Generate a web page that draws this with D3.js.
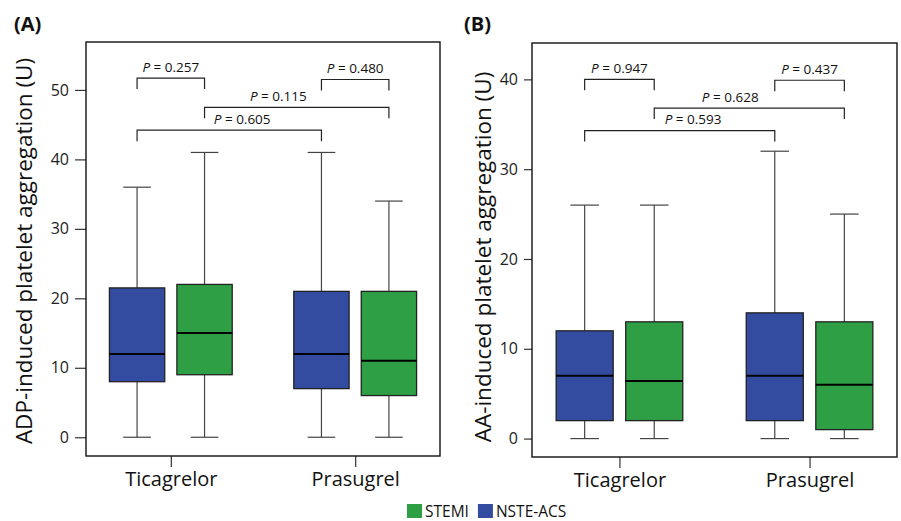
<!DOCTYPE html>
<html>
<head>
<meta charset="utf-8">
<script src="https://cdn.jsdelivr.net/npm/d3@7"></script>
<style>
  body { margin: 0; background: #fff; }
  svg { display: block; font-family: "Open Sans", "Noto Sans", sans-serif; }
</style>
</head>
<body>
<svg id="chart" width="901" height="521"></svg>
<script>
// data
var groups = ["Ticagrelor", "Prasugrel"];
var series = ["NSTE-ACS", "STEMI"];
var legendOrder = ["STEMI", "NSTE-ACS"];
var colors = {"NSTE-ACS": "#334ca0", "STEMI": "#2f9f46"};

// [min, q1, median, q3, max]  order: Tica NSTE, Tica STEMI, Pras NSTE, Pras STEMI
var adpBoxes = [[0, 8, 12, 21.5, 36], [0, 9, 15, 22, 41], [0, 7, 12, 21, 41], [0, 6, 11, 21, 34]];
var aaBoxes = [[0, 2, 7, 12, 26], [0, 2, 6.4, 13, 26], [0, 2, 7, 14, 32], [0, 1, 6, 13, 25]];

// brackets: [from box, to box], height (units), p value
var bracketPairs = [[0, 1], [2, 3], [1, 3], [0, 2]];
var adpBracketY = [51.7, 51.5, 47.5, 44.2];
var adpPvals = ["0.257", "0.480", "0.115", "0.605"];
var aaBracketY = [40.0, 39.9, 36.8, 34.3];
var aaPvals = ["0.947", "0.437", "0.628", "0.593"];

var adpTicks = [0, 10, 20, 30, 40, 50];
var aaTicks = [0, 10, 20, 30, 40];

// where along the bracket the label sits
var labelFrac = [0.5, 0.5, 0.4, 0.57];

var svg = d3.select("#chart");

var panels = [
  {tag: "(A)", title: "ADP-induced platelet aggregation (U)", boxes: adpBoxes, by: adpBracketY, pv: adpPvals, ticks: adpTicks,
   left: 86, right: 440, top: 42, bottom: 456, dom: [-2.7, 56.9], tickLen: 11, tagX: 14, titleX: 32, titleY: 251},
  {tag: "(B)", title: "AA-induced platelet aggregation (U)", boxes: aaBoxes, by: aaBracketY, pv: aaPvals, ticks: aaTicks,
   left: 532, right: 897, top: 43, bottom: 457, dom: [-2.05, 44.05], tickLen: 8, tagX: 464, titleX: 491, titleY: 257}
];

panels.forEach(function(p) {
  var g = svg.append("g");

  var x = d3.scalePoint().domain(groups).range([p.left, p.right]).padding(0.46);
  var step = x.step();
  var sub = d3.scaleBand().domain(series)
    .range([-0.333 * step, 0.333 * step]).paddingInner(0.18);
  var bw = sub.bandwidth();
  var y = d3.scaleLinear().domain(p.dom).range([p.bottom, p.top]);

  var boxData = [];
  groups.forEach(function(gr, i) {
    series.forEach(function(s, j) {
      var v = p.boxes[i * 2 + j];
      boxData.push({group: gr, series: s, cx: x(gr) + sub(s) + bw / 2,
        min: v[0], q1: v[1], med: v[2], q3: v[3], max: v[4]});
    });
  });

  // y axis
  var yAxis = d3.axisLeft(y).tickValues(p.ticks).tickSize(p.tickLen).tickPadding(6);
  var ya = g.append("g").attr("transform", "translate(" + p.left + ",0)").call(yAxis);
  ya.select(".domain").remove();
  ya.selectAll("line").attr("stroke", "#333").attr("stroke-width", 1.2);
  ya.selectAll("text").attr("font-size", 16).attr("fill", "#222")
    .attr("font-family", "Open Sans, sans-serif");

  // x axis
  var xAxis = d3.axisBottom(x).tickSize(11).tickPadding(5);
  var xa = g.append("g").attr("transform", "translate(0," + p.bottom + ")").call(xAxis);
  xa.select(".domain").remove();
  xa.selectAll("line").attr("stroke", "#333").attr("stroke-width", 1.2);
  xa.selectAll("text").attr("font-size", 20).attr("fill", "#111")
    .attr("font-family", "Open Sans, sans-serif");

  // whiskers
  var bx = g.selectAll(".box").data(boxData).enter().append("g");
  bx.append("line")
    .attr("x1", function(d) { return d.cx; }).attr("x2", function(d) { return d.cx; })
    .attr("y1", function(d) { return y(d.min); }).attr("y2", function(d) { return y(d.max); })
    .attr("stroke", "#444").attr("stroke-width", 1.2);
  bx.selectAll(".cap").data(function(d) { return [[d.cx, d.min], [d.cx, d.max]]; })
    .enter().append("line")
    .attr("x1", function(d) { return d[0] - bw / 4; }).attr("x2", function(d) { return d[0] + bw / 4; })
    .attr("y1", function(d) { return y(d[1]); }).attr("y2", function(d) { return y(d[1]); })
    .attr("stroke", "#444").attr("stroke-width", 1.2);
  bx.append("rect")
    .attr("x", function(d) { return d.cx - bw / 2; })
    .attr("width", bw)
    .attr("y", function(d) { return y(d.q3); })
    .attr("height", function(d) { return y(d.q1) - y(d.q3); })
    .attr("fill", function(d) { return colors[d.series]; })
    .attr("stroke", "#222").attr("stroke-width", 1.3);
  bx.append("line")
    .attr("x1", function(d) { return d.cx - bw / 2; }).attr("x2", function(d) { return d.cx + bw / 2; })
    .attr("y1", function(d) { return y(d.med); }).attr("y2", function(d) { return y(d.med); })
    .attr("stroke", "#000").attr("stroke-width", 2);

  // frame
  g.append("rect").attr("x", p.left).attr("y", p.top)
    .attr("width", p.right - p.left).attr("height", p.bottom - p.top)
    .attr("fill", "none").attr("stroke", "#111").attr("stroke-width", 1.4);

  // significance brackets
  bracketPairs.forEach(function(pr, k) {
    var x1 = boxData[pr[0]].cx, x2 = boxData[pr[1]].cx, yy = y(p.by[k]);
    g.append("path")
      .attr("d", "M" + x1 + "," + (yy + 11) + "V" + yy + "H" + x2 + "V" + (yy + 11))
      .attr("fill", "none").attr("stroke", "#222").attr("stroke-width", 1.2);
    var t = g.append("text")
      .attr("x", x1 + (x2 - x1) * labelFrac[k]).attr("y", yy - 6.5)
      .attr("text-anchor", "middle").attr("font-size", 13.5).attr("fill", "#111");
    t.append("tspan").attr("font-style", "italic").text("P");
    t.append("tspan").text(" = " + p.pv[k]);
  });

  // titles
  g.append("text").attr("transform", "translate(" + p.titleX + "," + p.titleY + ") rotate(-90)")
    .attr("text-anchor", "middle").attr("font-size", 22.5).attr("fill", "#111").text(p.title);
  g.append("text").attr("x", p.tagX).attr("y", 31).attr("font-size", 20)
    .attr("font-weight", "bold").attr("fill", "#111").text(p.tag);
});

// legend
var lg = svg.append("g").attr("transform", "translate(407,504)");
var lx = 0;
legendOrder.forEach(function(s) {
  lg.append("rect").attr("x", lx).attr("y", 0).attr("width", 15).attr("height", 14)
    .attr("fill", colors[s]);
  var t = lg.append("text").attr("x", lx + 18).attr("y", 12.5).attr("font-size", 15.5)
    .attr("fill", "#111").text(s);
  lx += 18 + t.node().getComputedTextLength() + 9;
});
</script>
</body>
</html>
